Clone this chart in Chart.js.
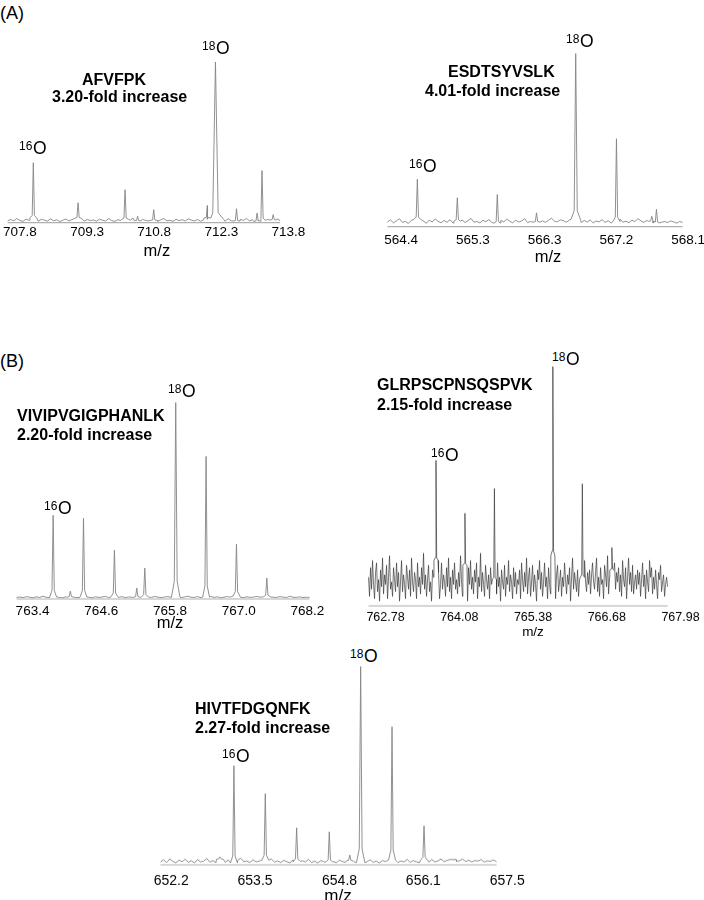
<!DOCTYPE html>
<html><head><meta charset="utf-8">
<script src="https://cdn.jsdelivr.net/npm/chart.js@4"></script>
<style>
html,body{margin:0;padding:0;background:#fff;}
body{width:704px;height:900px;position:relative;overflow:hidden;font-family:"Liberation Sans",Arial,Helvetica,sans-serif;color:#000;-webkit-font-smoothing:antialiased;}
.box{position:absolute;}
.t{position:absolute;white-space:nowrap;line-height:1;z-index:5;color:#000;}
</style></head><body>
<div class="box" id="b0"><canvas id="c0"></canvas></div>
<div class="box" id="b1"><canvas id="c1"></canvas></div>
<div class="box" id="b2"><canvas id="c2"></canvas></div>
<div class="box" id="b3"><canvas id="c3"></canvas></div>
<div class="box" id="b4"><canvas id="c4"></canvas></div>
<script>
// ---------------- DATA ----------------
const peptides = ['AFVFPK', 'ESDTSYVSLK', 'VIVIPVGIGPHANLK', 'GLRPSCPNSQSPVK', 'HIVTFDGQNFK'];
const folds = ['3.20-fold increase', '4.01-fold increase', '2.20-fold increase', '2.15-fold increase', '2.27-fold increase'];

// Panel (A) left: AFVFPK
const a1TickValues = [707.8, 709.3, 710.8, 712.3, 713.8];
const a1TickLabels = ['707.8', '709.3', '710.8', '712.3', '713.8'];
const a1PeakMz  = [708.10, 709.10, 710.15, 710.43, 710.79, 711.99, 712.17, 712.64, 713.10, 713.21, 713.46];
const a1PeakInt = [37.3, 12.4, 20.5, 4.0, 8.1, 10.6, 100, 8.7, 6.0, 32.4, 5.0];
const a1Noise = [1.2,2.0,1.1,2.6,1.4,0.8,2.2,1.5,3.0,1.3,0.9,2.1,1.6,1.0,2.4,1.2,1.8,0.7,1.5,2.3,1.1,1.9,0.8,2.7,1.4,1.0,2.0,1.3,1.7,0.9,2.2,1.5,1.1,2.5,1.3,0.8,1.9,1.4,2.1,1.0,1.6,2.8,1.2,0.9,2.0,1.5,1.1,2.3,1.4,0.9,1.8,2.6,1.2,1.5,0.8,2.1,1.3,1.9,1.0,2.4,1.6,1.1,2.0,0.9,1.7,2.9,1.3,1.0,2.2,1.5,1.8,0.9,2.5,1.2,1.6,1.0,2.1,1.4,2.7,1.1,1.9,0.8,2.3,1.5,1.2,2.0,1.0,1.7,2.4,1.3];

// Panel (A) right: ESDTSYVSLK
const a2TickValues = [564.4, 565.333, 566.267, 567.2, 568.133];
const a2TickLabels = ['564.4', '565.3', '566.3', '567.2', '568.1'];
const a2PeakMz  = [564.61, 565.13, 565.65, 566.16, 566.67, 567.20, 567.66, 567.72];
const a2PeakInt = [27.4, 16.7, 18.6, 8.0, 100, 50.8, 6.0, 10.0];
const a2Noise = [2.8,3.9,2.2,3.4,4.6,2.5,3.1,1.9,3.7,2.9,4.2,2.4,3.3,2.0,3.8,2.7,4.5,3.0,2.3,3.6,2.6,4.0,2.1,3.2,2.8,3.9,2.4,3.5,4.8,2.6,3.0,2.2,3.7,2.9,4.1,2.5,3.4,2.0,3.6,2.8,4.4,3.1,2.3,3.8,2.7,3.3,4.6,2.4,3.0,3.9,2.6,4.2,3.4,2.5,3.7,4.9,3.2,2.8,4.0,3.5,2.6,3.8,2.9,4.3,3.1,2.4,3.6,2.7,3.9,2.2,3.3,2.8,4.1,2.5,3.5,2.1,3.7,3.0,4.4,2.6,3.2,2.3,3.8,2.9,4.7,3.4,2.5,3.6,2.7,3.1,2.2,3.5,2.6,3.0,2.4,3.3,2.8,2.1,3.0,2.5];

// Panel (B) left: VIVIPVGIGPHANLK
const b1TickValues = [763.4, 764.6, 765.8, 767.0, 768.2];
const b1TickLabels = ['763.4', '764.6', '765.8', '767.0', '768.2'];
const b1PeakMz  = [763.76, 764.06, 764.29, 764.83, 765.22, 765.36, 765.90, 766.43, 766.96, 767.49];
const b1PeakInt = [42.6, 4.0, 41.1, 24.9, 5.6, 15.7, 100, 72.6, 27.9, 10.7];
const b1Noise = [0.8,1.0,0.7,1.2,0.9,0.6,1.1,0.8,1.4,0.9,0.7,1.0,1.3,0.8,0.6,1.1,0.9,1.5,0.8,0.7,1.0,1.2,0.9,0.6,1.1,0.8,1.0,1.3,0.7,0.9,1.1,0.8,1.2,0.7,1.0,0.9,1.4,0.8,0.6,1.0,1.1,0.8,1.3,0.9,0.7,1.0,1.2,0.8,0.9,1.1,0.7,1.0,1.4,0.9,0.8,1.2,0.7,1.0,0.9,1.3,0.8,1.1,0.7,0.9,1.2,1.0,0.8,1.5,0.9,0.7,1.1,0.8,1.0,1.3,0.9,0.7,1.1,1.6,0.9,0.8,1.2,1.0,0.7,1.4,0.9,0.8,1.1,0.7,0.9,0.8];

// Panel (B) right: GLRPSCPNSQSPVK
const b2TickValues = [762.78, 764.08, 765.38, 766.68, 767.98];
const b2TickLabels = ['762.78', '764.08', '765.38', '766.68', '767.98'];
const b2PeakMz  = [763.67, 764.18, 764.70, 765.73, 766.25, 766.77];
const b2PeakInt = [60.8, 38.7, 49.1, 100, 51.0, 24.4];
const b2Noise = [
  12,4,16,7,19,9,3,14,18,6,11,2,15,8,20,
  5,13,9,17,3,12,21,7,10,4,16,11,6,18,8,
  14,2,10,19,6,13,9,3,17,12,7,15,4,20,10,
  6,14,11,3,18,8,12,5,16,9,22,7,13,4,11,
  17,6,10,2,15,12,8,19,5,11,14,3,9,18,7,
  13,10,4,16,8,20,6,12,3,15,9,18,7,11,5,
  14,8,21,10,4,13,17,6,11,2,16,9,19,7,12,
  5,15,10,18,3,12,8,22,6,14,9,4,17,11,7,
  13,3,16,9,20,6,11,14,5,18,8,12,2,15,10,
  7,17,4,12,9,19,6,13,10,3,16,8,14,5,11,
  9,15,3,18,11,6,14,8,20,5,12,16,4,10,17,
  6,13,9,2,15,11,19,7,14,4,10,18,8,12,3,
  16,9,5,14,21,7,11,3,13,17,6,10,15,4,12,
  8,18,11,5,13,9,16,2,12,20,7,14,10,6,15,
  4,11,17,8,12,3,19,10,6,14,9,15,5,13,18,
  10,7,14,20,6,12,4,16,9,11,3,17,13,8,21,
  5,12,9,15,11,2,18,7,14,10,16,6,13,4,19,
  11,8,16,3,12,20,9,14,6,17,5,10,13,7,15,
  9,14,4,11,18,8,13,3,15,10,6,19,12,16,5,
  12,7,15,9,3,14,11,17,6,10,13,4,9,12,8];

// Panel (B) bottom: HIVTFDGQNFK
const b3TickValues = [652.2, 653.51, 654.83, 656.14, 657.45];
const b3TickLabels = ['652.2', '653.5', '654.8', '656.1', '657.5'];
const b3PeakMz  = [652.96, 653.18, 653.67, 654.16, 654.67, 654.99, 655.16, 655.65, 656.15, 656.60];
const b3PeakInt = [4.0, 50.0, 35.9, 18.7, 16.7, 5.0, 100, 69.7, 19.7, 2.5];
const b3Noise = [1.5,2.6,1.2,3.0,1.8,1.0,2.4,1.6,2.9,1.3,2.1,1.0,2.7,1.5,1.9,3.2,1.4,2.2,1.1,2.8,1.7,1.3,2.5,1.9,1.0,2.3,3.4,1.6,2.0,1.2,2.6,1.5,1.9,1.1,2.4,1.7,2.9,1.4,2.0,1.2,2.3,1.6,1.0,2.5,1.8,1.3,2.1,1.5,2.8,1.2,1.9,1.0,2.2,1.6,2.7,1.4,1.8,1.1,2.4,1.7,1.3,2.0,2.9,1.5,1.8,1.1,2.3,1.6,2.6,1.3,1.9,1.0,2.2,1.7,1.4,2.5,1.8,1.2,2.0,1.5,2.8,1.3,2.2,1.6,1.1,2.4,1.9,1.4,2.7,1.5,2.0,3.0,1.6,2.3,1.3,2.6,1.8,2.1,2.9,1.7,2.4,1.5,2.2,1.9,2.7,1.4,2.1,1.8,2.5,1.6];

// ---------------- LAYOUT / STYLE ----------------
const FONT = '"Liberation Sans", Arial, Helvetica, sans-serif';
const panels = [
  {box:[0,62,312,198], min:707.393, max:714.327, base:[707.527,713.615], ticks:a1TickValues, labels:a1TickLabels,
   mz:a1PeakMz, inten:a1PeakInt, noise:a1Noise, w:0.025, wMain:0.06, k:0.04, color:'#858585', lw:0.9,
   tickSize:13.5, tickPad:3, titleSize:16.5, titlePad:1.3},
  {box:[370,53,356,212.3], min:564.002, max:568.617, base:[564.222,568.06], ticks:a2TickValues, labels:a2TickLabels,
   mz:a2PeakMz, inten:a2PeakInt, noise:a2Noise, w:0.015, wMain:0.02, k:0.05, color:'#858585', lw:0.9,
   tickSize:13.5, tickPad:6.5, titleSize:16.5, titlePad:-4.4},
  {box:[0,402,340,229.3], min:762.843, max:768.757, base:[763.122,768.235], ticks:b1TickValues, labels:b1TickLabels,
   mz:b1PeakMz, inten:b1PeakInt, noise:b1Noise, w:0.02, wMain:0.025, k:0.08, color:'#858585', lw:0.9,
   tickSize:13.5, tickPad:6, titleSize:16.5, titlePad:-9.7},
  {box:[355,366,356,272.5], min:762.253, max:768.507, base:[762.481,767.752], ticks:b2TickValues, labels:b2TickLabels,
   mz:b2PeakMz, inten:b2PeakInt, noise:b2Noise, w:0.012, wMain:0.012, k:0.02, color:'#3a3a3a', lw:0.7,
   tickSize:12.5, tickPad:5.5, titleSize:13.5, titlePad:-3.5},
  {box:[140,666,396,237.5], min:651.722, max:657.89, base:[652.033,657.283], ticks:b3TickValues, labels:b3TickLabels,
   mz:b3PeakMz, inten:b3PeakInt, noise:b3Noise, w:0.018, wMain:0.022, k:0.07, color:'#858585', lw:0.9,
   tickSize:14, tickPad:9.5, titleSize:17, titlePad:-10.5}
];

function buildSpectrum(p) {
  const n = p.noise.length;
  const step = (p.base[1] - p.base[0]) / (n - 1);
  const maxI = Math.max(...p.inten);
  const widths = p.inten.map(v => v === maxI ? p.wMain : p.w);
  const pts = [];
  for (let i = 0; i < n; i++) {
    const x = p.base[0] + i * step;
    if (p.mz.some((m, j) => Math.abs(x - m) < 3 * widths[j])) continue;
    pts.push({x, y: p.noise[i]});
  }
  p.mz.forEach((m, j) => {
    const ww = widths[j], h = p.inten[j];
    const idx = Math.max(0, Math.min(n - 1, Math.round((m - p.base[0]) / step)));
    const b = p.noise[idx];
    pts.push({x: m - 3*ww, y: b}, {x: m - ww, y: b + p.k*h}, {x: m, y: h},
             {x: m + ww, y: b + p.k*h}, {x: m + 3*ww, y: b});
  });
  pts.sort((a, c) => a.x - c.x);
  return pts;
}

panels.forEach((p, i) => {
  const box = document.getElementById('b' + i);
  box.style.left = p.box[0] + 'px'; box.style.top = p.box[1] + 'px';
  box.style.width = p.box[2] + 'px'; box.style.height = p.box[3] + 'px';
  new Chart(document.getElementById('c' + i), {
    type: 'line',
    data: {
      datasets: [
        {data: [{x: p.base[0], y: 0}, {x: p.base[1], y: 0}], borderColor: '#b0b0b0', borderWidth: 1.2,
         pointRadius: 0, clip: false, order: 2},
        {data: buildSpectrum(p), borderColor: p.color, borderWidth: p.lw, pointRadius: 0,
         tension: 0, clip: false, order: 1}
      ]
    },
    options: {
      responsive: true, maintainAspectRatio: false, animation: false, events: [],
      layout: {padding: 0},
      plugins: {legend: {display: false}, tooltip: {enabled: false}},
      scales: {
        x: {
          type: 'linear', min: p.min, max: p.max,
          grid: {display: false, drawTicks: false}, border: {display: false},
          afterBuildTicks: (s) => { s.ticks = p.ticks.map(v => ({value: v})); },
          ticks: {callback: (v, idx) => p.labels[idx], autoSkip: false, maxRotation: 0,
                  color: '#000', padding: p.tickPad, font: {family: FONT, size: p.tickSize, lineHeight: 1}},
          title: {display: true, text: 'm/z', color: '#000',
                  font: {family: FONT, size: p.titleSize, lineHeight: 1},
                  padding: {top: p.titlePad, bottom: 0}}
        },
        y: {display: false, min: 0, max: 100}
      }
    }
  });
});

// ---------------- TEXT LABELS ----------------
const texts = [
  {s:'(A)', x:0, cy:13, f:18, b:false},
  {s:'(B)', x:0, cy:361, f:18, b:false},
  {s:peptides[0], x:82, cy:80, f:16, b:true},
  {s:folds[0], x:52, cy:97, f:16, b:true},
  {s:peptides[1], x:448, cy:72, f:16, b:true},
  {s:folds[1], x:425, cy:91, f:16, b:true},
  {s:peptides[2], x:17, cy:416, f:16, b:true},
  {s:folds[2], x:17, cy:435, f:16, b:true},
  {s:peptides[3], x:377, cy:385, f:16, b:true},
  {s:folds[3], x:377, cy:405, f:16, b:true},
  {s:peptides[4], x:195, cy:709, f:16, b:true},
  {s:folds[4], x:195, cy:728, f:16, b:true}
];
const isotopes = [
  // [mass, oLeft, oCy]
  ['16', 33, 149], ['18', 216, 49],
  ['16', 423, 167], ['18', 580, 42],
  ['16', 58, 509], ['18', 182, 392],
  ['16', 445, 456], ['18', 566, 360],
  ['16', 236, 757], ['18', 364, 657]
];
function addText(s, x, cy, f, bold) {
  const d = document.createElement('div');
  d.className = 't'; d.textContent = s;
  d.style.left = x + 'px'; d.style.top = (cy - 0.49 * f) + 'px';
  d.style.fontSize = f + 'px'; d.style.fontWeight = bold ? 'bold' : 'normal';
  document.body.appendChild(d);
}
texts.forEach(t => addText(t.s, t.x, t.cy, t.f, t.b));
isotopes.forEach(v => { addText(v[0], v[1] - 14, v[2] - 3, 12, false); addText('O', v[1], v[2], 17.5, false); });
</script>
</body></html>
